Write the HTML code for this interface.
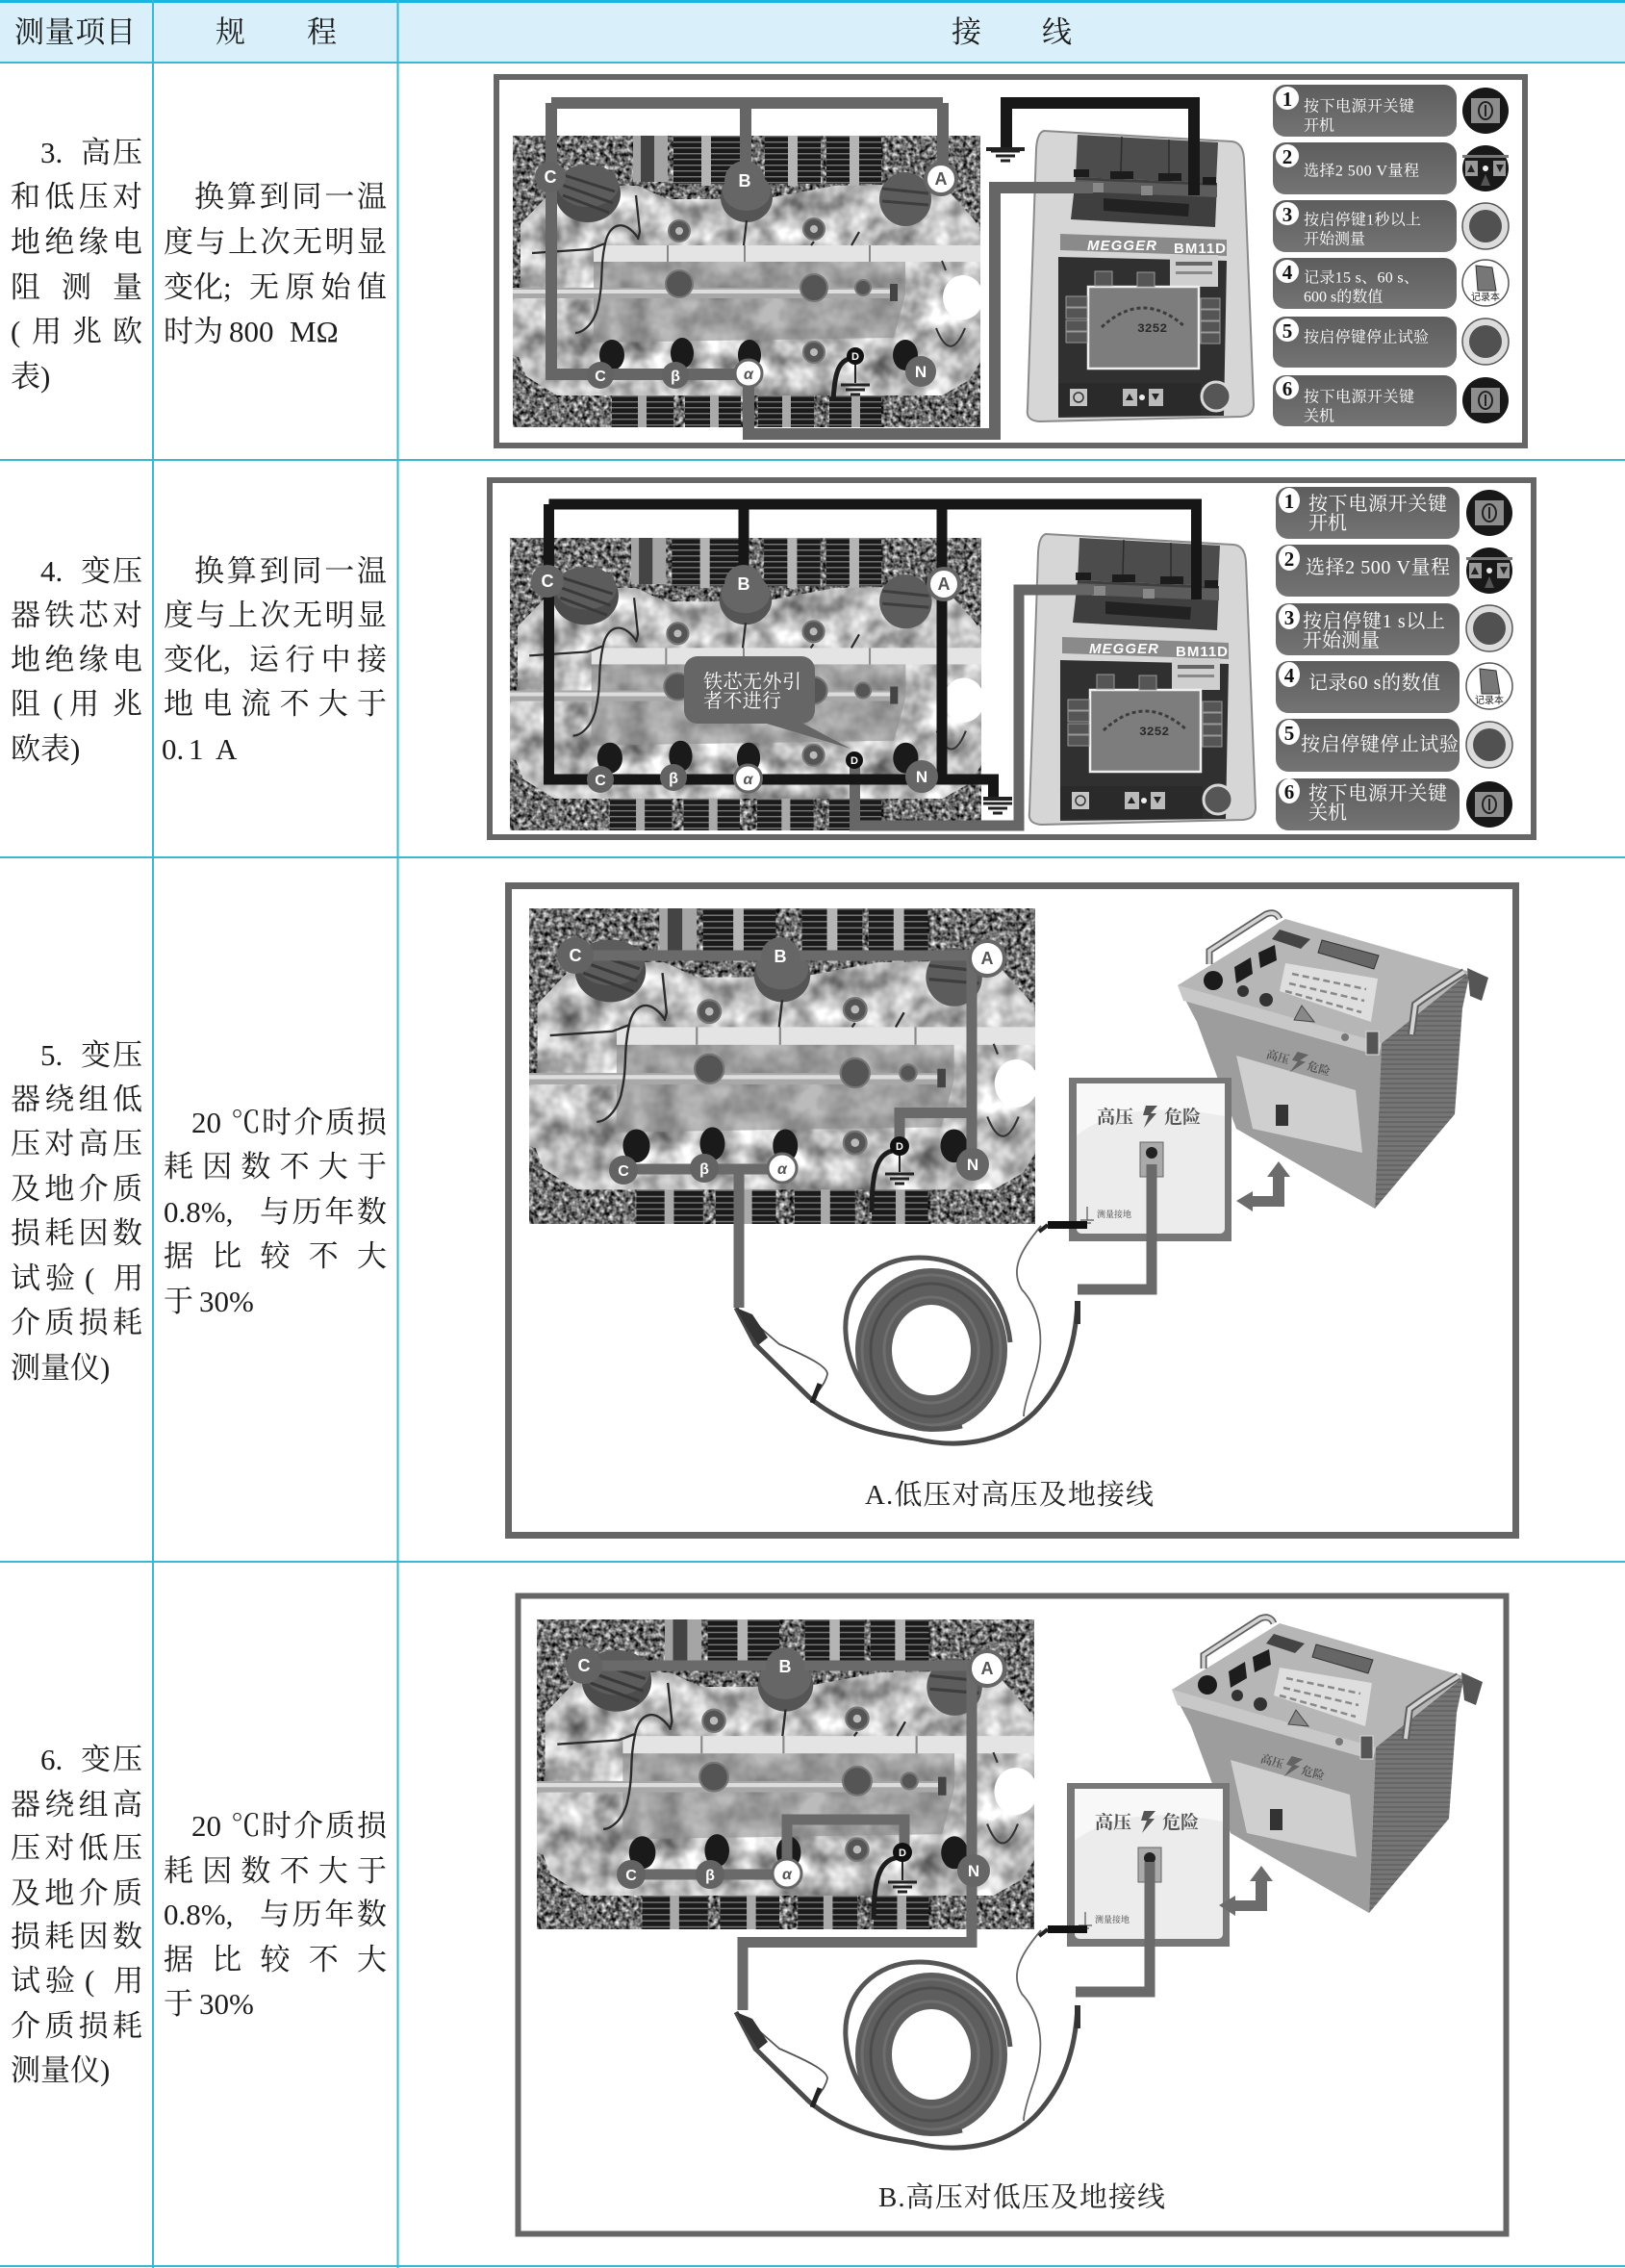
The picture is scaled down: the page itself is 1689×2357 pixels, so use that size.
<!DOCTYPE html>
<html lang="zh"><head><meta charset="utf-8"><title>测量项目 规程 接线</title>
<style>
html,body{margin:0;padding:0;background:#fff}
svg{display:block}
.t{font-family:"Liberation Serif","Noto Serif CJK SC",serif;font-size:31px;fill:#1c1c1c}
.p{font-family:"Liberation Serif","Noto Serif CJK SC",serif;font-size:16px;fill:#fff}
.q{font-family:"Liberation Serif","Noto Serif CJK SC",serif;font-size:20px;fill:#fff}
.n{font-family:"Liberation Serif",serif;font-size:21px;font-weight:bold;fill:#111;text-anchor:middle}
.l{font-family:"Liberation Sans",sans-serif;font-weight:bold;font-size:18px;fill:#fff;text-anchor:middle}
.ld{font-family:"Liberation Sans",sans-serif;font-weight:bold;font-size:18px;fill:#555;text-anchor:middle}
.cap{font-family:"Liberation Serif","Noto Serif CJK SC",serif;font-size:29px;fill:#222}
.m{font-family:"Liberation Sans",sans-serif;font-weight:bold;font-style:italic;font-size:15px;fill:#fff}
.b{font-family:"Liberation Sans",sans-serif;font-weight:bold;font-size:15px;fill:#fff}
.h{font-family:"Liberation Serif","Noto Serif CJK SC",serif;font-size:19px;font-weight:bold;fill:#555}
.s{font-family:"Liberation Serif","Noto Serif CJK SC",serif;font-size:9px;fill:#444}
.r{font-family:"Liberation Serif","Noto Sans CJK SC",serif;font-size:10px;fill:#222;text-anchor:middle}
</style></head><body>
<svg xmlns="http://www.w3.org/2000/svg" width="1689" height="2357" viewBox="0 0 1689 2357">
<defs>
<filter id="gr" x="0" y="0" width="100%" height="100%" color-interpolation-filters="sRGB">
<feTurbulence type="fractalNoise" baseFrequency=".22" numOctaves="2" seed="3"/>
<feColorMatrix values="1.5 0 0 0 -.32 1.5 0 0 0 -.32 1.5 0 0 0 -.32 0 0 0 0 1"/>
</filter>
<filter id="mo" x="0" y="0" width="100%" height="100%" color-interpolation-filters="sRGB">
<feTurbulence type="fractalNoise" baseFrequency=".035" numOctaves="3" seed="8"/>
<feColorMatrix values="1 0 0 0 .24 1 0 0 0 .24 1 0 0 0 .24 0 0 0 0 1"/>
<feComposite in2="SourceAlpha" operator="in"/>
</filter>
<pattern id="rad" width="8" height="6" patternUnits="userSpaceOnUse"><rect width="8" height="6" fill="#1a1a1a"/><rect y="0" width="8" height="1.4" fill="#777"/></pattern>
<pattern id="ven" width="6" height="5" patternUnits="userSpaceOnUse"><rect width="6" height="5" fill="#767676"/><rect width="6" height="2" fill="#666"/></pattern>
<linearGradient id="pg" x1="0" y1="0" x2="0" y2="1"><stop offset="0" stop-color="#5d5d5d"/><stop offset="1" stop-color="#747474"/></linearGradient>

<symbol id="photo" viewBox="0 0 486 303" preserveAspectRatio="none">
<rect width="486" height="303" fill="#666"/>
<rect width="486" height="303" filter="url(#gr)"/>
<rect x="125" y="0" width="36" height="48" fill="#a5a5a5"/><rect x="133" y="0" width="14" height="48" fill="#444"/>
<rect x="167" y="0" width="70" height="50" fill="url(#rad)"/><rect x="262" y="0" width="58" height="50" fill="url(#rad)"/><rect x="326" y="0" width="57" height="50" fill="url(#rad)"/>
<rect x="196" y="0" width="10" height="52" fill="#b5b5b5"/><rect x="286" y="0" width="10" height="52" fill="#b5b5b5"/><rect x="350" y="0" width="10" height="52" fill="#b5b5b5"/>
<rect x="103" y="268" width="64" height="35" fill="url(#rad)"/><rect x="179" y="268" width="58" height="35" fill="url(#rad)"/><rect x="255" y="268" width="58" height="35" fill="url(#rad)"/><rect x="329" y="268" width="54" height="35" fill="url(#rad)"/>
<rect x="130" y="268" width="9" height="35" fill="#aaa"/><rect x="205" y="268" width="9" height="35" fill="#aaa"/><rect x="280" y="268" width="9" height="35" fill="#aaa"/><rect x="352" y="268" width="9" height="35" fill="#aaa"/>
<path d="M8,92 L46,52 L130,52 L160,66 L225,66 L260,66 L335,52 L446,50 L480,88 L486,100 L486,235 L474,254 L446,270 L46,270 L14,250 L6,230 L0,228 L0,170 L8,160Z" fill="#bbb"/>
<path d="M8,92 L46,52 L130,52 L160,66 L225,66 L260,66 L335,52 L446,50 L480,88 L486,100 L486,235 L474,254 L446,270 L46,270 L14,250 L6,230 L0,228 L0,170 L8,160Z" filter="url(#mo)"/>
<path d="M84,130 L408,130 L408,165 L396,210 L84,215Z" fill="#8e8e8e" opacity=".6"/>
<rect x="84" y="114" width="402" height="17" fill="#e4e4e4"/><rect x="160" y="114" width="2" height="17" fill="#888"/><rect x="240" y="114" width="2" height="17" fill="#888"/><rect x="370" y="114" width="2" height="17" fill="#888"/>
<rect x="0" y="158" width="398" height="11" fill="#a8a8a8"/><rect x="0" y="160" width="398" height="4" fill="#ddd"/><rect x="392" y="154" width="8" height="18" fill="#444"/>
<g fill="#555" stroke="#777" stroke-width="2">
<circle cx="173" cy="99" r="11"/><circle cx="313" cy="97" r="11"/><circle cx="173" cy="154" r="14"/><circle cx="313" cy="158" r="14"/><circle cx="364" cy="158" r="8"/><circle cx="313" cy="225" r="11"/></g>
<g fill="#bbb"><circle cx="173" cy="99" r="4"/><circle cx="313" cy="97" r="4"/><circle cx="313" cy="225" r="4"/></g>
<g fill="#1a1a1a"><ellipse cx="103" cy="228" rx="13" ry="16"/><ellipse cx="176" cy="226" rx="12" ry="16"/><ellipse cx="246" cy="228" rx="12" ry="16"/><ellipse cx="408" cy="228" rx="13" ry="16"/></g>
<ellipse cx="78" cy="60" rx="34" ry="30" fill="#4c4c4c"/><ellipse cx="78" cy="52" rx="32" ry="22" fill="#5c5c5c"/>
<path d="M50,40 L106,58 M48,50 L104,70 M52,62 L100,80" stroke="#3a3a3a" stroke-width="3" fill="none"/>
<ellipse cx="243" cy="64" rx="27" ry="26" fill="#555"/><ellipse cx="243" cy="58" rx="25" ry="20" fill="#666"/>
<ellipse cx="408" cy="66" rx="27" ry="28" fill="#5c5c5c"/><path d="M384,55 L432,60 M384,68 L432,72" stroke="#3e3e3e" stroke-width="3"/>
<g fill="none" stroke="#2b2b2b" stroke-width="2.2"><path d="M128,62 L132,100 L130,108 M130,106 C115,85 100,92 96,112 L80,118 L20,122"/><path d="M96,112 C90,140 95,150 88,180 C82,200 70,205 65,205"/><path d="M243,88 L240,114 M313,110 L310,114 M360,100 L352,114"/></g>
<ellipse cx="468" cy="168" rx="21" ry="23" fill="#fff"/>
<path d="M446,130 L450,140 M440,200 C450,225 460,225 470,200" stroke="#333" fill="none" stroke-width="2"/>
</symbol>

<g id="dev">
<path d="M1085,136 L1280,147 Q1292,148 1293,165 L1303,420 Q1303,432 1290,433 L1080,438 Q1066,437 1068,425 L1077,155 Q1078,138 1085,136Z" fill="#d6d6d6" stroke="#8a8a8a" stroke-width="2"/>
<path d="M1120,140 L1266,148 L1264,190 L1118,184Z" fill="#4c4c4c"/>
<path d="M1118,184 L1265,190 L1263,236 L1113,228Z" fill="#3f3f3f"/>
<path d="M1118,187 L1265,193 L1265,205 L1116,199Z" fill="#5c5c5c"/>
<path d="M1166,142 L1165,178 M1215,145 L1215,180" stroke="#2c2c2c" stroke-width="1.5"/>
<g fill="#1c1c1c"><rect x="1116" y="176" width="16" height="8"/><rect x="1154" y="178" width="24" height="8"/><rect x="1204" y="180" width="24" height="8"/><rect x="1250" y="184" width="14" height="8"/></g>
<path d="M1147,206 L1236,212 L1235,225 L1147,219Z" fill="#222"/>
<rect x="1133" y="190" width="14" height="10" fill="#888"/><rect x="1186" y="193" width="12" height="10" fill="#888"/>
<path d="M1102,243 L1275,249 L1275,266 L1102,260Z" fill="#8a8a8a"/>
<path d="M1100,267 L1275,271 L1272,432 L1100,434Z" fill="#303030"/>
<rect x="1216" y="265" width="50" height="33" fill="#cfcfcf"/><rect x="1222" y="272" width="38" height="4" fill="#666"/><rect x="1222" y="282" width="38" height="3" fill="#888"/>
<rect x="1131" y="298" width="115" height="85" fill="#7d7d7d" stroke="#efefef" stroke-width="2.5"/>
<path d="M1145,340 Q1188,300 1232,340" fill="none" stroke="#3c3c3c" stroke-width="3" stroke-dasharray="4 3"/>
<g fill="#555" stroke="#999"><rect x="1108" y="308" width="22" height="11"/><rect x="1108" y="320" width="22" height="11"/><rect x="1108" y="333" width="22" height="11"/><rect x="1108" y="345" width="22" height="11"/><rect x="1248" y="310" width="20" height="11"/><rect x="1248" y="322" width="20" height="11"/><rect x="1248" y="334" width="20" height="11"/><rect x="1248" y="346" width="20" height="11"/><rect x="1138" y="282" width="18" height="15"/><rect x="1182" y="283" width="18" height="15"/></g>
<rect x="1100" y="398" width="148" height="34" fill="#2a2a2a"/>
<rect x="1112" y="404" width="18" height="18" fill="#c5c5c5"/><circle cx="1121" cy="413" r="5" fill="none" stroke="#333" stroke-width="1.5"/>
<rect x="1167" y="404" width="15" height="18" fill="#bbb"/><rect x="1194" y="404" width="15" height="18" fill="#bbb"/><circle cx="1187" cy="413" r="3" fill="#eee"/>
<path d="M1174,409 L1178,416 L1170,416Z M1197,409 L1205,409 L1201,416Z" fill="#222"/>
<ellipse cx="1264" cy="412" rx="15" ry="15" fill="#565656" stroke="#d8d8d8" stroke-width="3"/>
</g>

<g id="ipw"><ellipse rx="24" ry="24" fill="#181818"/><rect x="-15" y="-13" width="30" height="26" fill="#8d8d8d"/><ellipse rx="7" ry="9" fill="none" stroke="#222" stroke-width="2"/><rect x="-1" y="-6" width="2" height="12" fill="#222"/></g>
<g id="iar"><ellipse rx="24" ry="24" fill="#181818"/><rect x="-24" y="-14" width="48" height="3" fill="#777"/><rect x="-21" y="-8" width="13" height="16" fill="#999"/><rect x="8" y="-8" width="13" height="16" fill="#999"/><circle r="3" fill="#eee"/><path d="M-15,-4 L-11,4 L-19,4Z M11,-4 L19,-4 L15,4Z" fill="#222"/><path d="M0,6 L5,18 L-5,18Z" fill="#555"/></g>
<g id="ibt"><ellipse rx="24" ry="24" fill="#dcdcdc" stroke="#555" stroke-width="1.5"/><ellipse rx="17" ry="17" fill="#515151"/></g>
<g id="ibk"><ellipse rx="24" ry="24" fill="#fff" stroke="#555" stroke-width="1.5"/><path d="M-10,-18 L7,-16 L11,8 L-8,8Z" fill="#777" stroke="#333"/></g>
<g id="gnd" stroke="#222" fill="none"><path d="M-15,0 H15" stroke-width="3"/><path d="M-10,5 H10" stroke-width="3"/><path d="M-5,10 H5" stroke-width="3"/></g>
<path id="bolt" d="M8,-11 H-4 L-7,-1 H-1 L-6,12 L7,-3 H1Z" fill="#555"/>

<g id="tp">
<rect x="1111" y="1120" width="169" height="170" fill="#777"/>
<rect x="1119" y="1126" width="154" height="156" rx="5" fill="#ececec"/>
<path d="M1119,1180 Q1170,1140 1273,1160 L1273,1126 L1119,1126Z" fill="#f8f8f8"/>
<rect x="1185" y="1187" width="24" height="36" fill="#aaa" stroke="#666"/><circle cx="1197" cy="1198" r="6" fill="#222"/>
<path d="M1130,1254 V1268 M1123,1268 H1137 M1126,1271 H1134" stroke="#555" stroke-width="1.2" fill="none"/>
</g>

<g id="uni">
<path d="M1224,1024 L1436,1084 L1429,1256 L1285,1173 L1244,1062Z" fill="#9d9d9d"/>
<path d="M1436,1084 L1528,1010 L1520,1048 L1512,1158 L1429,1256Z" fill="url(#ven)"/>
<path d="M1224,1024 L1336,955 L1528,1010 L1436,1084Z" fill="#b6b6b6"/>
<path d="M1224,1024 L1436,1084 L1433,1097 L1230,1040Z" fill="#c8c8c8"/>
<path d="M1285,1097 L1409,1133 L1416,1198 L1302,1173Z" fill="#cfcfcf"/>
<rect x="1326" y="1148" width="13" height="22" fill="#333"/>
<path d="M1374,977 L1433,993 L1428,1007 L1370,990Z" fill="#666" stroke="#333"/>
<path d="M1336,1001 L1432,1017 L1425,1062 L1330,1030Z" fill="#dedede"/>
<path d="M1343,1012 L1420,1028 M1340,1022 L1418,1040 M1336,1030 L1415,1052" stroke="#888" stroke-width="2.5" stroke-dasharray="7 4"/>
<path d="M1353,1045 L1366,1062 L1345,1060Z" fill="#888" stroke="#444"/>
<path d="M1330,966 L1362,976 L1352,986 L1322,976Z" fill="#444"/>
<path d="M1283,1005 L1300,995 L1302,1012 L1285,1022Z M1308,990 L1325,982 L1327,998 L1310,1006Z" fill="#1d1d1d"/>
<circle cx="1261" cy="1019" r="10" fill="#1b1b1b"/><circle cx="1292" cy="1030" r="6" fill="#333"/><circle cx="1316" cy="1039" r="7" fill="#333"/>
<circle cx="1398" cy="1078" r="4" fill="#777"/><rect x="1420" y="1072" width="13" height="24" fill="#555" stroke="#ddd"/>
<path d="M1257,1002 L1257,988 Q1300,960 1316,950 Q1326,946 1330,955" fill="none" stroke="#5e5e5e" stroke-width="7"/>
<path d="M1257,1002 L1257,988 Q1300,960 1316,950 Q1326,946 1330,955" fill="none" stroke="#d4d4d4" stroke-width="3.5"/>
<path d="M1467,1075 L1471,1044 Q1490,1030 1522,1010" fill="none" stroke="#5e5e5e" stroke-width="8"/>
<path d="M1467,1075 L1471,1044 Q1490,1030 1522,1010" fill="none" stroke="#d4d4d4" stroke-width="4"/>
<path d="M1525,1006 L1547,1016 L1540,1040 L1528,1035Z" fill="#555"/>
</g>

<g id="arr"><path d="M1329,1207 L1341,1223 L1335,1223 L1335,1254 L1302,1254 L1302,1259 L1285,1248 L1302,1238 L1302,1243 L1323,1243 L1323,1223 L1317,1223Z" fill="#6c6c6c"/></g>

<g id="cbl" fill="none">
<ellipse cx="968" cy="1403" rx="60" ry="66" stroke="#5e5e5e" stroke-width="38"/>
<ellipse cx="968" cy="1403" rx="49" ry="55" stroke="#6e6e6e" stroke-width="3"/>
<ellipse cx="968" cy="1403" rx="63" ry="69" stroke="#4c4c4c" stroke-width="3"/>
<ellipse cx="968" cy="1403" rx="72" ry="78" stroke="#6e6e6e" stroke-width="3"/>
<path d="M1000,1482 C930,1500 882,1440 879,1385 C876,1340 910,1307 955,1307 C1010,1307 1045,1345 1050,1395" stroke="#555" stroke-width="5"/>
<path d="M765,1359 L785,1397 L841,1452 C880,1485 920,1490 951,1495 C990,1505 1040,1502 1075,1468 C1105,1437 1118,1400 1120,1352" stroke="#4a4a4a" stroke-width="5"/>
<path d="M770,1362 L810,1397 C840,1410 860,1420 860,1428 C858,1438 850,1445 847,1452" stroke="#555" stroke-width="1.8"/>
<path d="M765,1359 L775,1378 L788,1398 L798,1390 L782,1366Z" fill="#333"/>
<path d="M844,1458 L852,1438" stroke="#222" stroke-width="5"/>
<path d="M1082,1274 C1060,1300 1050,1320 1062,1340 C1085,1365 1085,1400 1075,1430 C1068,1450 1064,1465 1064,1472" stroke="#666" stroke-width="1.8"/>
<rect x="1089" y="1269" width="41" height="8" fill="#111"/>
<path d="M1089,1273 L1080,1280" stroke="#222" stroke-width="4"/>
<path d="M1120,1352 V1376" stroke="#333" stroke-width="6"/>
</g>
</defs>

<rect width="1689" height="2357" fill="#fff"/>
<rect x="0" y="3" width="1689" height="62" fill="#d9effa"/>
<g fill="none" stroke="#38b8d2">
<path d="M0,1.5 H1689" stroke="#19b6e4" stroke-width="3"/>
<path d="M0,65 H1689 M0,478 H1689 M0,891 H1689 M0,1623 H1689 M0,2355 H1689" stroke-width="2"/>
<path d="M159,0 V2357 M413.5,0 V2357" stroke-width="2"/>
</g>

<!-- table text -->
<g class="t" transform="translate(0,2)">
<text x="15" y="42" textLength="126">测量项目</text><text x="224" y="42">规</text><text x="319" y="42">程</text><text x="989" y="42">接</text><text x="1083" y="42">线</text>

<text x="42" y="167">3.</text><text x="84" y="167" textLength="64">高压</text><text x="11" y="213" textLength="137">和低压对</text><text x="11" y="260" textLength="137">地绝缘电</text><text x="11" y="307" textLength="137">阻 测 量</text><text x="11" y="353">(</text><text x="33" y="353" textLength="115">用兆欧</text><text x="11" y="400">表)</text>
<text x="202" y="213" textLength="200">换算到同一温</text><text x="170" y="260" textLength="232">度与上次无明显</text><text x="170" y="307">变化;</text><text x="259" y="307" textLength="143">无原始值</text><text x="170" y="353">时为</text><text x="238" y="353">800</text><text x="301" y="353">MΩ</text>

<text x="42" y="602">4.</text><text x="84" y="602" textLength="64">变压</text><text x="11" y="648" textLength="137">器铁芯对</text><text x="11" y="694" textLength="137">地绝缘电</text><text x="11" y="740">阻</text><text x="55" y="740">(</text><text x="72" y="740" textLength="76">用兆</text><text x="11" y="787">欧表)</text>
<text x="202" y="602" textLength="200">换算到同一温</text><text x="170" y="648" textLength="232">度与上次无明显</text><text x="170" y="694">变化,</text><text x="259" y="694" textLength="143">运行中接</text><text x="170" y="740" textLength="232">地电流不大于</text><text x="168" y="787">0.</text><text x="196" y="787">1</text><text x="224" y="787">A</text>

<text x="42" y="1105">5.</text><text x="84" y="1105" textLength="64">变压</text><text x="11" y="1151" textLength="137">器绕组低</text><text x="11" y="1197" textLength="137">压对高压</text><text x="11" y="1244" textLength="137">及地介质</text><text x="11" y="1290" textLength="137">损耗因数</text><text x="11" y="1337" textLength="67">试验</text><text x="88" y="1337">(</text><text x="118" y="1337">用</text><text x="11" y="1383" textLength="137">介质损耗</text><text x="11" y="1430">测量仪)</text>
<text x="199" y="1175">20</text><text x="240" y="1175">℃</text><text x="272" y="1175" textLength="130">时介质损</text><text x="170" y="1221" textLength="232">耗因数不大于</text><text x="170" y="1268">0.8%,</text><text x="270" y="1268" textLength="132">与历年数</text><text x="170" y="1314" textLength="232">据比较不大</text><text x="170" y="1361">于</text><text x="207" y="1361">30%</text>

<text x="42" y="1837">6.</text><text x="84" y="1837" textLength="64">变压</text><text x="11" y="1884" textLength="137">器绕组高</text><text x="11" y="1929" textLength="137">压对低压</text><text x="11" y="1976" textLength="137">及地介质</text><text x="11" y="2021" textLength="137">损耗因数</text><text x="11" y="2067" textLength="67">试验</text><text x="88" y="2067">(</text><text x="118" y="2067">用</text><text x="11" y="2114" textLength="137">介质损耗</text><text x="11" y="2160">测量仪)</text>
<text x="199" y="1906">20</text><text x="240" y="1906">℃</text><text x="272" y="1906" textLength="130">时介质损</text><text x="170" y="1953" textLength="232">耗因数不大于</text><text x="170" y="1998">0.8%,</text><text x="270" y="1998" textLength="132">与历年数</text><text x="170" y="2045" textLength="232">据比较不大</text><text x="170" y="2091">于</text><text x="207" y="2091">30%</text>
</g>

<!-- FRAME 1 -->
<rect x="516" y="80" width="1069" height="383" fill="#fff" stroke="#666" stroke-width="6"/>
<use href="#photo" x="533" y="141" width="486" height="303"/>
<use href="#dev"/>
<g fill="none" stroke="#666" stroke-width="12">
<path d="M573,107 H980 M573,107 V389 H778 M775,107 V185 M980,107 V185"/>
<path d="M778,390 V451 H1034 V195 H1136"/>
</g>
<g fill="none" stroke="#181818" stroke-width="12"><path d="M1046,153 V107 H1241 V203"/></g>
<use href="#gnd" x="1045" y="157"/>
<g stroke="#222" fill="none"><path d="M1025,155 H1065" stroke-width="4"/></g>
<path d="M889,372 C870,372 868,390 866,415" fill="none" stroke="#1d1d1d" stroke-width="5"/>
<path d="M889,372 V398" stroke="#222" stroke-width="2"/>
<use href="#gnd" x="889" y="400"/>
<circle cx="572" cy="184" r="16" fill="#636363"/><text class="l" x="572" y="190">C</text>
<circle cx="774" cy="188" r="21" fill="#666"/><text class="l" x="774" y="194">B</text>
<circle cx="978" cy="186" r="16" fill="#fff" stroke="#666" stroke-width="4"/><text class="ld" x="978" y="192">A</text>
<circle cx="624" cy="390" r="14" fill="#636363"/><text class="l" x="624" y="396" style="font-size:16px">C</text>
<circle cx="702" cy="390" r="14" fill="#636363"/><text class="l" x="702" y="396" style="font-size:16px">β</text>
<circle cx="778" cy="388" r="14" fill="#fff" stroke="#666" stroke-width="3"/><text class="ld" x="778" y="394" style="font-size:16px;font-style:italic">α</text>
<circle cx="889" cy="370" r="9" fill="#111"/><text class="l" x="889" y="374" style="font-size:11px">D</text>
<circle cx="957" cy="386" r="16" fill="#666"/><text class="l" x="957" y="392" style="font-size:17px">N</text>
<text class="m" x="1130" y="260" textLength="72">MEGGER</text><text class="b" x="1220" y="263" textLength="54">BM11D</text>
<text x="1182" y="345" style="font:bold 13px 'Liberation Mono',monospace;fill:#2a2a2a">3252</text>
<g fill="url(#pg)"><rect x="1323" y="88" width="191" height="54" rx="13"/><rect x="1323" y="148" width="191" height="54" rx="13"/><rect x="1323" y="208" width="191" height="54" rx="13"/><rect x="1323" y="268" width="191" height="53" rx="13"/><rect x="1323" y="329" width="191" height="53" rx="13"/><rect x="1323" y="390" width="191" height="53" rx="13"/></g>
<g fill="#fff"><circle cx="1338" cy="102" r="12"/><circle cx="1338" cy="162" r="12"/><circle cx="1338" cy="222" r="12"/><circle cx="1338" cy="282" r="12"/><circle cx="1338" cy="343" r="12"/><circle cx="1338" cy="403" r="12"/></g>
<text class="n" x="1338" y="110">1</text><text class="n" x="1338" y="170">2</text><text class="n" x="1338" y="230">3</text><text class="n" x="1338" y="290">4</text><text class="n" x="1338" y="351">5</text><text class="n" x="1338" y="411">6</text>
<g class="p">
<text x="1355" y="115.500" textLength="115">按下电源开关键</text><text x="1355" y="135.500">开机</text>
<text x="1355" y="182.500" textLength="120">选择2 500 V量程</text>
<text x="1355" y="233.500" textLength="122">按启停键1秒以上</text><text x="1355" y="253.500">开始测量</text>
<text x="1355" y="293.500" textLength="120">记录15 s、60 s、</text><text x="1355" y="313.500">600 s的数值</text>
<text x="1355" y="355.500" textLength="130">按启停键停止试验</text>
<text x="1355" y="417.500" textLength="115">按下电源开关键</text><text x="1355" y="437.500">关机</text>
</g>
<use href="#ipw" x="1544" y="115"/><use href="#iar" x="1544" y="175"/><use href="#ibt" x="1544" y="235"/><use href="#ibk" x="1544" y="294"/><use href="#ibt" x="1544" y="355"/><use href="#ipw" x="1544" y="416"/>
<text class="r" x="1544" y="312">记录本</text>

<!-- FRAME 2 -->
<rect x="509" y="499" width="1085" height="371" fill="#fff" stroke="#666" stroke-width="6"/>
<use href="#photo" x="530" y="559" width="490" height="304"/>
<use href="#dev" x="2" y="419"/>
<path d="M711,682 m14,0 H833 a14,14 0 0 1 14,14 V738 a14,14 0 0 1 -14,14 H835 L884,778 L797,752 H725 a14,14 0 0 1 -14,-14 V696 a14,14 0 0 1 14,-14Z" fill="#666"/>
<g fill="none" stroke="#666" stroke-width="11"><path d="M888.500,795 V858 H1059 V613 H1137"/></g>
<g fill="none" stroke="#161616" stroke-width="11"><path d="M570.500,524 H1243.500 V623 M570.500,524 V810 H1032.500 V828 M773,524 V590 M979,524 V810"/></g>
<path d="M1022,830 H1052" stroke="#222" stroke-width="4"/><use href="#gnd" x="1037" y="835"/>
<circle cx="569" cy="604" r="17" fill="#636363"/><text class="l" x="569" y="610">C</text>
<circle cx="773" cy="607" r="20" fill="#666"/><text class="l" x="773" y="613">B</text>
<circle cx="981" cy="607" r="16" fill="#fff" stroke="#666" stroke-width="4"/><text class="ld" x="981" y="613">A</text>
<circle cx="624" cy="810" r="14" fill="#636363"/><text class="l" x="624" y="816" style="font-size:16px">C</text>
<circle cx="700" cy="808" r="14" fill="#636363"/><text class="l" x="700" y="814" style="font-size:16px">β</text>
<circle cx="777.500" cy="809" r="14" fill="#fff" stroke="#666" stroke-width="3"/><text class="ld" x="777.500" y="815" style="font-size:16px;font-style:italic">α</text>
<circle cx="888" cy="790" r="9" fill="#111"/><text class="l" x="888" y="794" style="font-size:11px">D</text>
<circle cx="958" cy="807" r="17" fill="#666"/><text class="l" x="958" y="813" style="font-size:17px">N</text>
<g class="q"><text x="731" y="715" textLength="102">铁芯无外引</text><text x="731" y="735" textLength="81">者不进行</text></g>
<text class="m" x="1132" y="679" textLength="72">MEGGER</text><text class="b" x="1222" y="682" textLength="54">BM11D</text>
<text x="1184" y="764" style="font:bold 13px 'Liberation Mono',monospace;fill:#2a2a2a">3252</text>
<g fill="url(#pg)"><rect x="1326" y="506" width="191" height="54" rx="13"/><rect x="1326" y="566" width="191" height="54" rx="13"/><rect x="1326" y="627" width="191" height="54" rx="13"/><rect x="1326" y="687" width="191" height="54" rx="13"/><rect x="1326" y="747" width="191" height="55" rx="13"/><rect x="1326" y="809" width="191" height="54" rx="13"/></g>
<g fill="#fff"><ellipse cx="1340" cy="520" rx="11" ry="13"/><ellipse cx="1340" cy="580" rx="11" ry="13"/><ellipse cx="1340" cy="641" rx="11" ry="13"/><ellipse cx="1340" cy="701" rx="11" ry="13"/><ellipse cx="1340" cy="761" rx="11" ry="13"/><ellipse cx="1340" cy="822" rx="11" ry="13"/></g>
<text class="n" x="1340" y="528">1</text><text class="n" x="1340" y="588">2</text><text class="n" x="1340" y="649">3</text><text class="n" x="1340" y="709">4</text><text class="n" x="1340" y="769">5</text><text class="n" x="1340" y="830">6</text>
<g class="q">
<text x="1360" y="530" textLength="144">按下电源开关键</text><text x="1360" y="550">开机</text>
<text x="1357" y="596" textLength="150">选择2 500 V量程</text>
<text x="1354" y="652" textLength="148">按启停键1 s以上</text><text x="1354" y="672">开始测量</text>
<text x="1360" y="716" textLength="137">记录60 s的数值</text>
<text x="1352" y="780" textLength="164">按启停键停止试验</text>
<text x="1360" y="831" textLength="144">按下电源开关键</text><text x="1360" y="851">关机</text>
</g>
<use href="#ipw" x="1548" y="533"/><use href="#iar" x="1548" y="593"/><use href="#ibt" x="1548" y="653"/><use href="#ibk" x="1548" y="713"/><use href="#ibt" x="1548" y="774"/><use href="#ipw" x="1548" y="836"/>
<text class="r" x="1548" y="731">记录本</text>

<!-- FRAME 3 -->
<rect x="528.500" y="920.500" width="1047" height="675" fill="#fff" stroke="#666" stroke-width="7"/>
<use href="#photo" x="550" y="944" width="526" height="328"/>
<use href="#uni"/>
<use href="#tp"/>
<use href="#arr"/>
<use href="#cbl"/>
<g fill="none" stroke="#6a6a6a" stroke-width="11">
<path d="M598,993 H1026 M1010,997 V1210 M1015,1156.500 H935 V1191"/>
<path d="M648,1215 H813 M768,1215 V1359"/>
<path d="M1197,1210 V1340 H1120"/>
</g>
<path d="M935,1195 C912,1195 906,1215 906,1260" fill="none" stroke="#1d1d1d" stroke-width="5"/>
<path d="M935,1195 V1218" stroke="#222" stroke-width="2"/><use href="#gnd" x="935" y="1220"/>
<circle cx="598" cy="993" r="19" fill="#636363"/><text class="l" x="598" y="999">C</text>
<circle cx="811" cy="994" r="20" fill="#666"/><text class="l" x="811" y="1000">B</text>
<circle cx="1026" cy="996" r="18" fill="#fff" stroke="#666" stroke-width="4"/><text class="ld" x="1026" y="1002">A</text>
<circle cx="648" cy="1216" r="15" fill="#636363"/><text class="l" x="648" y="1222" style="font-size:16px">C</text>
<circle cx="732" cy="1214" r="15" fill="#636363"/><text class="l" x="732" y="1220" style="font-size:16px">β</text>
<circle cx="813" cy="1214" r="15" fill="#fff" stroke="#666" stroke-width="3"/><text class="ld" x="813" y="1220" style="font-size:16px;font-style:italic">α</text>
<circle cx="935" cy="1191" r="10" fill="#111"/><text class="l" x="935" y="1195" style="font-size:11px">D</text>
<circle cx="1011" cy="1210" r="17" fill="#666"/><text class="l" x="1011" y="1216" style="font-size:17px">N</text>
<text class="h" x="1140" y="1167">高压</text><use href="#bolt" x="1195" y="1160"/><text class="h" x="1210" y="1167">危险</text>
<text class="s" x="1140" y="1265">测量接地</text>
<g transform="rotate(16 1345 1120)" style="font:bold 12px 'Noto Serif CJK SC',serif;fill:#555"><text x="1311" y="1108">高压</text><use href="#bolt" x="1345" y="1104" opacity=".8"/><text x="1355" y="1108">危险</text></g>
<text class="cap" x="899" y="1563" textLength="300">A.低压对高压及地接线</text>

<!-- FRAME 4 -->
<rect x="538.500" y="1658.500" width="1027" height="663" fill="#fff" stroke="#666" stroke-width="6"/>
<use href="#photo" x="558" y="1683" width="517" height="322"/>
<use href="#uni" x="-6" y="732"/>
<use href="#tp" x="-2" y="733"/>
<use href="#arr" x="-18" y="732"/>
<use href="#cbl" y="732"/>
<g fill="none" stroke="#6a6a6a" stroke-width="11">
<path d="M607,1731 H1026 M1010,1734 V2018.500 H772 V2089"/>
<path d="M656,1948 H818 M818,1947 V1891 H940 V1925"/>
<path d="M1195,1935 V2070 H1118"/>
</g>
<path d="M938,1930 C915,1930 908,1950 908,1995" fill="none" stroke="#1d1d1d" stroke-width="5"/>
<path d="M938,1930 V1954" stroke="#222" stroke-width="2"/><use href="#gnd" x="938" y="1956"/>
<circle cx="607" cy="1731" r="19" fill="#636363"/><text class="l" x="607" y="1737">C</text>
<circle cx="816" cy="1732" r="20" fill="#666"/><text class="l" x="816" y="1738">B</text>
<circle cx="1026" cy="1734" r="18" fill="#fff" stroke="#666" stroke-width="4"/><text class="ld" x="1026" y="1740">A</text>
<circle cx="656" cy="1948" r="15" fill="#636363"/><text class="l" x="656" y="1954" style="font-size:16px">C</text>
<circle cx="738" cy="1948" r="15" fill="#636363"/><text class="l" x="738" y="1954" style="font-size:16px">β</text>
<circle cx="818" cy="1947" r="15" fill="#fff" stroke="#666" stroke-width="3"/><text class="ld" x="818" y="1953" style="font-size:16px;font-style:italic">α</text>
<circle cx="938" cy="1925" r="10" fill="#111"/><text class="l" x="938" y="1929" style="font-size:11px">D</text>
<circle cx="1012" cy="1944" r="17" fill="#666"/><text class="l" x="1012" y="1950" style="font-size:17px">N</text>
<text class="h" x="1138" y="1900">高压</text><use href="#bolt" x="1193" y="1893"/><text class="h" x="1208" y="1900">危险</text>
<text class="s" x="1138" y="1998">测量接地</text>
<g transform="rotate(16 1339 1852)" style="font:bold 12px 'Noto Serif CJK SC',serif;fill:#555"><text x="1305" y="1840">高压</text><use href="#bolt" x="1339" y="1836" opacity=".8"/><text x="1349" y="1840">危险</text></g>
<text class="cap" x="913" y="2293" textLength="298">B.高压对低压及地接线</text>
</svg>
</body></html>
